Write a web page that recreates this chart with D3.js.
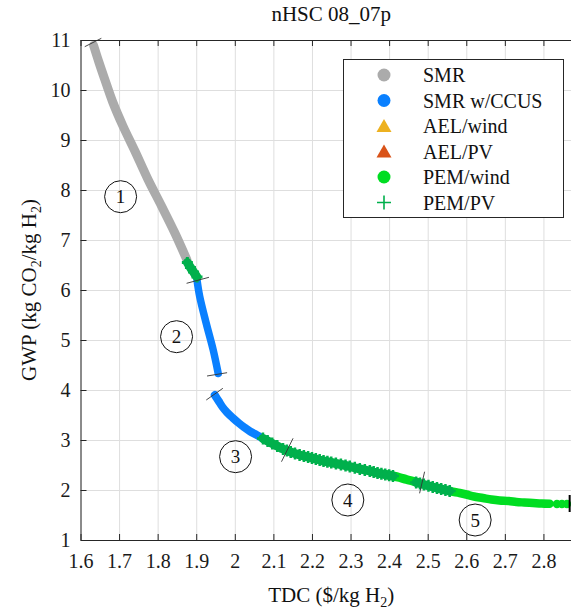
<!DOCTYPE html>
<html>
<head>
<meta charset="utf-8">
<script src="https://cdn.jsdelivr.net/npm/d3@7"></script>
<style>
  html, body { margin: 0; padding: 0; background: #fff; }
  svg { display: block; font-family: "Liberation Serif", "DejaVu Serif", serif; }
</style>
</head>
<body>
<div id="chart"></div>
<script>
// ---------------- data ----------------
const chartTitle = "nHSC 08_07p";
const xTicks = [1.6, 1.7, 1.8, 1.9, 2.0, 2.1, 2.2, 2.3, 2.4, 2.5, 2.6, 2.7, 2.8];
const xTickLabels = ["1.6","1.7","1.8","1.9","2","2.1","2.2","2.3","2.4","2.5","2.6","2.7","2.8"];
const yTicks = [1, 2, 3, 4, 5, 6, 7, 8, 9, 10, 11];
const yTickLabels = ["1","2","3","4","5","6","7","8","9","10","11"];

// SMR (grey)
const smrPts = [[1.634,10.89],[1.648,10.55],[1.663,10.21],[1.684,9.75],[1.710,9.28],[1.741,8.78],
  [1.775,8.21],[1.810,7.68],[1.844,7.15],[1.876,6.60]];
// PEM/PV run 1
const pemPv1 = [[1.877,6.55],[1.885,6.45],[1.893,6.36],[1.902,6.26]];
// SMR w/CCUS run 1 (segment 2)
const ccus1 = [[1.902,6.20],[1.909,5.87],[1.926,5.33],[1.944,4.80],[1.957,4.33]];
// SMR w/CCUS run 2 (segment 3)
const ccus2 = [[1.948,3.90],[1.958,3.78],[1.968,3.66],[1.980,3.55],[1.995,3.44],[2.010,3.34],
  [2.025,3.25],[2.040,3.17],[2.057,3.10],[2.073,3.03]];
// PEM/PV run 2
const pemPv2 = [[2.073,3.03],[2.085,2.98],[2.097,2.93],[2.110,2.88],[2.125,2.82],[2.135,2.79],[2.145,2.76],
  [2.156,2.73],[2.168,2.70],[2.179,2.68],[2.190,2.66],[2.200,2.64],[2.210,2.62],[2.220,2.60],[2.230,2.58],
  [2.240,2.565],[2.250,2.55],[2.262,2.53],[2.275,2.51],[2.287,2.49],[2.298,2.47],[2.311,2.445],[2.324,2.42],
  [2.337,2.40],[2.350,2.38],[2.360,2.36],[2.370,2.34],[2.380,2.325],[2.390,2.31],[2.400,2.295],[2.410,2.28]];
// PEM/wind run 1
const pemWind1 = [[2.390,2.31],[2.410,2.28],[2.427,2.25],[2.445,2.21],[2.460,2.18],[2.475,2.15]];
// PEM/PV run 3
const pemPv3 = [[2.470,2.15],[2.480,2.13],[2.490,2.11],[2.502,2.085],[2.513,2.06],[2.524,2.04],
  [2.535,2.02],[2.546,2.00],[2.557,1.98]];
// PEM/wind run 2
const pemWind2 = [[2.557,1.98],[2.583,1.94],[2.600,1.91],[2.620,1.87],[2.643,1.84],[2.665,1.81],
  [2.686,1.79],[2.710,1.78],[2.730,1.76],[2.750,1.75],[2.773,1.74],[2.795,1.73],[2.816,1.725]];
const pemWindDots = [[2.835,1.72],[2.848,1.72],[2.861,1.72]];

// segment boundary marks [x1,y1,x2,y2]
const breakMarks = [
  [1.611,10.866,1.654,11.034],
  [1.875,6.134,1.933,6.254],
  [1.928,4.280,1.980,4.346],
  [1.926,3.800,1.969,4.034],
  [2.121,2.566,2.151,3.034],
  [2.479,1.934,2.492,2.366]
];
const endMark = [2.868,1.90,2.868,1.56];

// circled segment numbers
const segLabels = [
  {n:"1", x:1.704, y:7.866},
  {n:"2", x:1.849, y:5.066},
  {n:"3", x:2.002, y:2.666},
  {n:"4", x:2.293, y:1.800},
  {n:"5", x:2.623, y:1.400}
];

const legendNames = ["SMR","SMR w/CCUS","AEL/wind","AEL/PV","PEM/wind","PEM/PV"];
const legendShapes = ["circle","circle","triangle","triangle","circle","plus"];
const colors = {
  "SMR":"#ababab", "SMR w/CCUS":"#0a80ff", "AEL/wind":"#EDB120",
  "AEL/PV":"#D95319", "PEM/wind":"#00dd22", "PEM/PV":"#00b04c"
};

// ---------------- drawing ----------------
const W = 571, H = 610;
const svg = d3.select("#chart").append("svg").attr("width", W).attr("height", H);

const x = d3.scaleLinear().domain([1.6, 2.9]).range([80.5, 582]);
const y = d3.scaleLinear().domain([1, 11]).range([540, 40]);
const pLeft = x.range()[0], pRight = x.range()[1], pTop = y.range()[1], pBottom = y.range()[0];

// grid
const grid = svg.append("g");
grid.append("g").attr("transform", `translate(0,${pBottom})`)
  .call(d3.axisBottom(x).tickValues(xTicks).tickSize(-(pBottom - pTop)).tickFormat(""))
  .call(g => g.select(".domain").remove())
  .call(g => g.selectAll("line").attr("stroke", "#dedede").attr("stroke-width", 1));
grid.append("g").attr("transform", `translate(${pLeft},0)`)
  .call(d3.axisLeft(y).tickValues(yTicks).tickSize(-(pRight - pLeft)).tickFormat(""))
  .call(g => g.select(".domain").remove())
  .call(g => g.selectAll("line").attr("stroke", "#dedede").attr("stroke-width", 1));

// data
const line = d3.line().x(d => x(d[0])).y(d => y(d[1])).curve(d3.curveCatmullRom);
function band(pts, color, width) {
  svg.append("path").attr("d", line(pts)).attr("fill", "none")
    .attr("stroke", color).attr("stroke-width", width)
    .attr("stroke-linecap", "round").attr("stroke-linejoin", "round");
}
function pluses(pts, color, size, sw) {
  svg.append("g").selectAll("path").data(pts).join("path")
    .attr("d", d => `M${x(d[0]) - size/2},${y(d[1])}h${size}M${x(d[0])},${y(d[1]) - size/2}v${size}`)
    .attr("stroke", color).attr("stroke-width", sw).attr("fill", "none");
}
band(smrPts, colors["SMR"], 9);
band(ccus1, colors["SMR w/CCUS"], 7.5);
band(ccus2, colors["SMR w/CCUS"], 8);
band(pemWind1, colors["PEM/wind"], 9);
band(pemWind2, colors["PEM/wind"], 8.5);
svg.append("g").selectAll("circle").data(pemWindDots).join("circle")
  .attr("cx", d => x(d[0])).attr("cy", d => y(d[1])).attr("r", 4.2)
  .attr("fill", colors["PEM/wind"]);
band(pemPv1, colors["PEM/PV"], 9);
pluses(pemPv1, colors["PEM/PV"], 11, 3);
band(pemPv2, colors["PEM/PV"], 9);
pluses(pemPv2, colors["PEM/PV"], 12, 2.5);
band(pemPv3, colors["PEM/PV"], 9);
pluses(pemPv3, colors["PEM/PV"], 12, 2.5);

// break marks
svg.append("g").selectAll("line").data(breakMarks).join("line")
  .attr("x1", d => x(d[0])).attr("y1", d => y(d[1]))
  .attr("x2", d => x(d[2])).attr("y2", d => y(d[3]))
  .attr("stroke", "#333").attr("stroke-width", 0.9);
svg.append("line")
  .attr("x1", x(endMark[0])).attr("y1", y(endMark[1]))
  .attr("x2", x(endMark[2])).attr("y2", y(endMark[3]))
  .attr("stroke", "#000").attr("stroke-width", 2);

// circled labels
const sl = svg.append("g").selectAll("g").data(segLabels).join("g")
  .attr("transform", d => `translate(${x(d.x)},${y(d.y)})`);
sl.append("circle").attr("r", 16).attr("fill", "none").attr("stroke", "#111").attr("stroke-width", 1);
sl.append("text").attr("text-anchor", "middle").attr("dy", "0.35em")
  .attr("font-size", 19).attr("fill", "#111").text(d => d.n);

// axes frame and inward ticks
const tickLen = 6;
function styleAxis(g) {
  g.selectAll(".domain").attr("stroke", "#262626").attr("stroke-width", 1);
  g.selectAll(".tick line").attr("stroke", "#262626").attr("stroke-width", 1);
}
svg.append("g").attr("transform", `translate(0,${pBottom})`)
  .call(d3.axisBottom(x).tickValues(xTicks).tickSizeInner(-tickLen).tickSizeOuter(0)
    .tickFormat((d, i) => xTickLabels[i]).tickPadding(14))
  .call(styleAxis)
  .call(g => g.selectAll("text").attr("font-size", 20).attr("fill", "#1a1a1a")
    .attr("font-family", "Liberation Serif, serif"));
svg.append("g").attr("transform", `translate(0,${pTop})`)
  .call(d3.axisTop(x).tickValues(xTicks).tickSizeInner(-tickLen).tickSizeOuter(0).tickFormat(""))
  .call(styleAxis);
svg.append("g").attr("transform", `translate(${pLeft},0)`)
  .call(d3.axisLeft(y).tickValues(yTicks).tickSizeInner(-tickLen).tickSizeOuter(0)
    .tickFormat((d, i) => yTickLabels[i]).tickPadding(10))
  .call(styleAxis)
  .call(g => g.selectAll("text").attr("font-size", 20).attr("fill", "#1a1a1a")
    .attr("font-family", "Liberation Serif, serif"));
svg.append("g").attr("transform", `translate(${pRight},0)`)
  .call(d3.axisRight(y).tickValues(yTicks).tickSizeInner(-tickLen).tickSizeOuter(0).tickFormat(""))
  .call(styleAxis);

// title
svg.append("text").attr("x", (pLeft + pRight) / 2).attr("y", 21).attr("text-anchor", "middle")
  .attr("font-size", 21).attr("fill", "#111").text(chartTitle);

// x label
const xl = svg.append("text").attr("x", (pLeft + pRight) / 2).attr("y", 602).attr("text-anchor", "middle")
  .attr("font-size", 21).attr("fill", "#111");
xl.append("tspan").text("TDC ($/kg H");
xl.append("tspan").attr("font-size", 14).attr("dy", 5).text("2");
xl.append("tspan").attr("dy", -5).text(")");

// y label
const yl = svg.append("text").attr("transform", `translate(36,${(pTop + pBottom) / 2}) rotate(-90)`)
  .attr("text-anchor", "middle").attr("font-size", 21).attr("fill", "#111");
yl.append("tspan").text("GWP (kg CO");
yl.append("tspan").attr("font-size", 14).attr("dy", 5).text("2");
yl.append("tspan").attr("dy", -5).text("/kg H");
yl.append("tspan").attr("font-size", 14).attr("dy", 5).text("2");
yl.append("tspan").attr("dy", -5).text(")");

// legend
const lg = svg.append("g");
lg.append("rect").attr("x", 343.5).attr("y", 59.5).attr("width", 220).attr("height", 158)
  .attr("fill", "#fff").attr("stroke", "#262626").attr("stroke-width", 1);
const rows = lg.selectAll("g.row").data(legendNames).join("g").attr("class", "row")
  .attr("transform", (d, i) => `translate(384,${75 + i * 25.5})`);
rows.each(function(d, i) {
  const g = d3.select(this), c = colors[d], s = legendShapes[i];
  if (s === "circle") g.append("circle").attr("r", 6.5).attr("fill", c);
  else if (s === "triangle") g.append("path").attr("d", "M0,-7L7.5,6L-7.5,6Z").attr("fill", c);
  else g.append("path").attr("d", "M-7,0H7M0,-7V7").attr("stroke", c).attr("stroke-width", 1.6);
  g.append("text").attr("x", 39).attr("dy", "0.35em").attr("font-size", 20).attr("fill", "#111").text(d);
});
</script>
</body>
</html>
